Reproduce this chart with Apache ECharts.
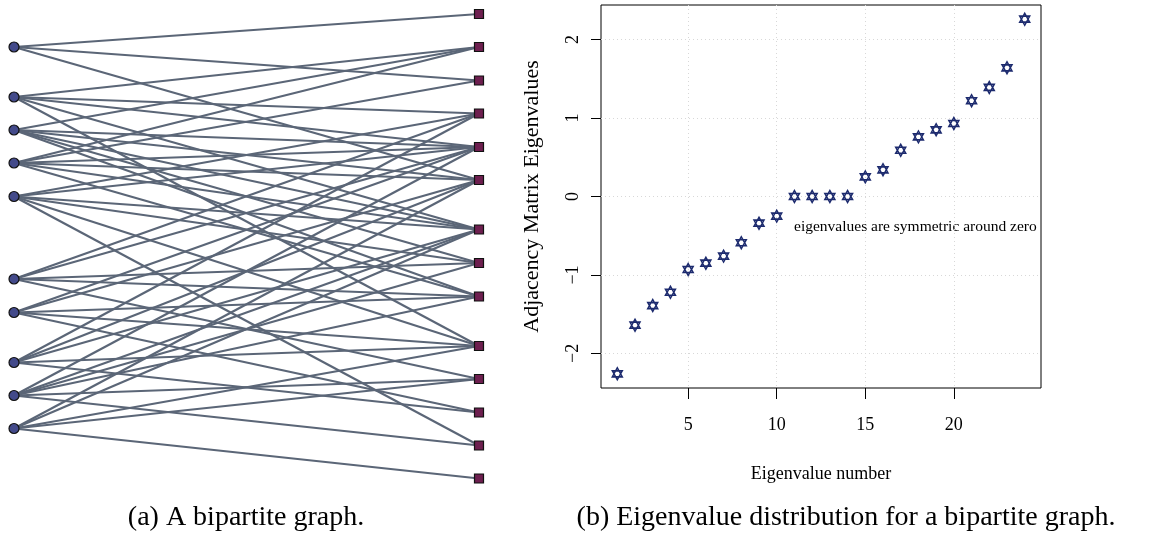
<!DOCTYPE html>
<html><head><meta charset="utf-8">
<script src="https://cdn.jsdelivr.net/npm/echarts@6/dist/echarts.min.js"></script>
<style>html,body{margin:0;padding:0;background:#fff}#c{width:1156px;height:533px}</style>
</head><body><div id="c"></div>
<script>
// ---- Panel (a): bipartite graph ----
const leftNodeY  = [47, 97, 130, 163, 196.5, 279, 312.5, 362.5, 395.5, 428.5];
const rightNodeY = [14, 47, 80.5, 113.5, 147, 180, 229.5, 263, 296.5, 346, 379, 412.5, 445.5, 478.5];
// edges: [left node number, right node number]
const edgeList = [
  [1,1],[1,3],[1,6],
  [2,2],[2,4],[2,5],[2,7],[2,10],
  [3,2],[3,5],[3,6],[3,7],[3,8],[3,9],
  [4,2],[4,3],[4,5],[4,6],[4,7],[4,9],
  [5,4],[5,5],[5,7],[5,8],[5,10],[5,13],
  [6,4],[6,5],[6,8],[6,9],[6,11],
  [7,5],[7,6],[7,9],[7,10],[7,12],
  [8,4],[8,6],[8,7],[8,10],[8,12],
  [9,5],[9,7],[9,8],[9,9],[9,11],[9,13],
  [10,6],[10,7],[10,10],[10,11],[10,14]
];
// ---- Panel (b): eigenvalues ----
const eigenNumber = [1,2,3,4,5,6,7,8,9,10,11,12,13,14,15,16,17,18,19,20,21,22,23,24];
const eigenvalues = [-2.26,-1.64,-1.39,-1.22,-0.93,-0.85,-0.76,-0.59,-0.34,-0.25,0,0,0,0,
                     0.25,0.34,0.59,0.76,0.85,0.93,1.22,1.39,1.64,2.26];
const xTicks = [5,10,15,20];
const yTicks = [-2,-1,0,1,2];
const xTitle = 'Eigenvalue number';
const yTitle = 'Adjacency Matrix Eigenvalues';
const note = 'eigenvalues are symmetric around zero';
const captionA = '(a) A bipartite graph.';
const captionB = '(b) Eigenvalue distribution for a bipartite graph.';

const nodes = [];
leftNodeY.forEach(y => nodes.push({value:[0,y], symbol:'circle', symbolSize:10,
  itemStyle:{color:'#434a8a', borderColor:'#111', borderWidth:1.2}}));
rightNodeY.forEach(y => nodes.push({value:[1,y], symbol:'rect', symbolSize:9,
  itemStyle:{color:'#6d1f4f', borderColor:'#111', borderWidth:1.2}}));
const links = edgeList.map(e => ({source: e[0]-1, target: leftNodeY.length + e[1]-1}));

const serif = 'Liberation Serif';
const hex = 'path://M0,-10L8.66,5L-8.66,5Z M0,10L8.66,-5L-8.66,-5Z';
const minus = v => (v < 0 ? '\u2212' + Math.abs(v) : String(v));
const xr = 0.04*(eigenNumber[eigenNumber.length-1]-eigenNumber[0]);
const yr = 0.04*(Math.max(...eigenvalues)-Math.min(...eigenvalues));
const xMin = eigenNumber[0]-xr, xMax = eigenNumber[eigenNumber.length-1]+xr;
const yMin = Math.min(...eigenvalues)-yr, yMax = Math.max(...eigenvalues)+yr;
const tickStyle = {color:'#000', width:1};

const chart = echarts.init(document.getElementById('c'), null, {renderer:'canvas'});
chart.setOption({
  animation:false,
  backgroundColor:'#fff',
  grid:[
    {left:14, top:14, width:465, height:464.5, show:false},
    {left:601, top:5, right:115, bottom:145, show:true, borderColor:'#000', borderWidth:1, backgroundColor:'transparent'},
    // strip under the frame holding the x tick marks
    {left:601, right:115, top:388, height:11, show:false},
    // strip left of the frame holding the y tick marks
    {left:591, width:10, top:5, bottom:145, show:false}
  ],
  xAxis:[
    {gridIndex:0, type:'value', min:0, max:1, show:false},
    {gridIndex:1, type:'value', min:xMin, max:xMax,
     name:xTitle, nameLocation:'middle', nameGap:77,
     nameTextStyle:{fontFamily:serif, fontSize:18, color:'#000'},
     axisLine:{show:false, onZero:false},
     axisTick:{show:false, customValues:xTicks},
     axisLabel:{customValues:xTicks, margin:28, fontFamily:serif, fontSize:18, color:'#000'},
     splitLine:{show:true, lineStyle:{color:'#d8d8d8', type:[1,3], width:1}}},
    {gridIndex:2, type:'value', min:xMin, max:xMax, position:'top',
     axisLine:{show:false, onZero:false},
     axisTick:{show:true, inside:true, length:11, customValues:xTicks, lineStyle:tickStyle},
     axisLabel:{show:false}, splitLine:{show:false}},
    {gridIndex:3, type:'value', min:0, max:1, show:false}
  ],
  yAxis:[
    {gridIndex:0, type:'value', min:14, max:478.5, inverse:true, show:false},
    {gridIndex:1, type:'value', min:yMin, max:yMax,
     name:yTitle, nameLocation:'middle', nameGap:58,
     nameTextStyle:{fontFamily:serif, fontSize:22, color:'#000'},
     axisLine:{show:false, onZero:false},
     axisTick:{show:false, customValues:yTicks},
     axisLabel:{customValues:yTicks, rotate:90, margin:19, fontFamily:serif, fontSize:18, color:'#000',
       formatter: v => minus(v)},
     splitLine:{show:true, lineStyle:{color:'#d8d8d8', type:[1,3], width:1}}},
    {gridIndex:2, type:'value', min:0, max:1, show:false},
    {gridIndex:3, type:'value', min:yMin, max:yMax, position:'right',
     axisLine:{show:false, onZero:false},
     axisTick:{show:true, inside:true, length:10, customValues:yTicks, lineStyle:tickStyle},
     axisLabel:{show:false}, splitLine:{show:false}}
  ],
  series:[
    {type:'graph', coordinateSystem:'cartesian2d', xAxisIndex:0, yAxisIndex:0,
     data:nodes, links:links, z:3,
     lineStyle:{color:'#5b6677', width:2.2, opacity:1, curveness:0}},
    {type:'scatter', xAxisIndex:1, yAxisIndex:1, symbol:hex, symbolSize:[10,12],
     itemStyle:{color:'transparent', borderColor:'#1c2a6e', borderWidth:1.5, opacity:1},
     data: eigenNumber.map((n,i)=>[n, eigenvalues[i]])}
  ],
  graphic:[
    {type:'text', left:794, top:219, style:{text:note, font:'15.5px "Liberation Serif"', fill:'#000'}},
    {type:'text', x:246, y:518, style:{text:captionA, font:'28px "Liberation Serif"', fill:'#000', align:'center', verticalAlign:'middle'}},
    {type:'text', x:846, y:518, style:{text:captionB, font:'28px "Liberation Serif"', fill:'#000', align:'center', verticalAlign:'middle'}}
  ]
});
</script></body></html>
